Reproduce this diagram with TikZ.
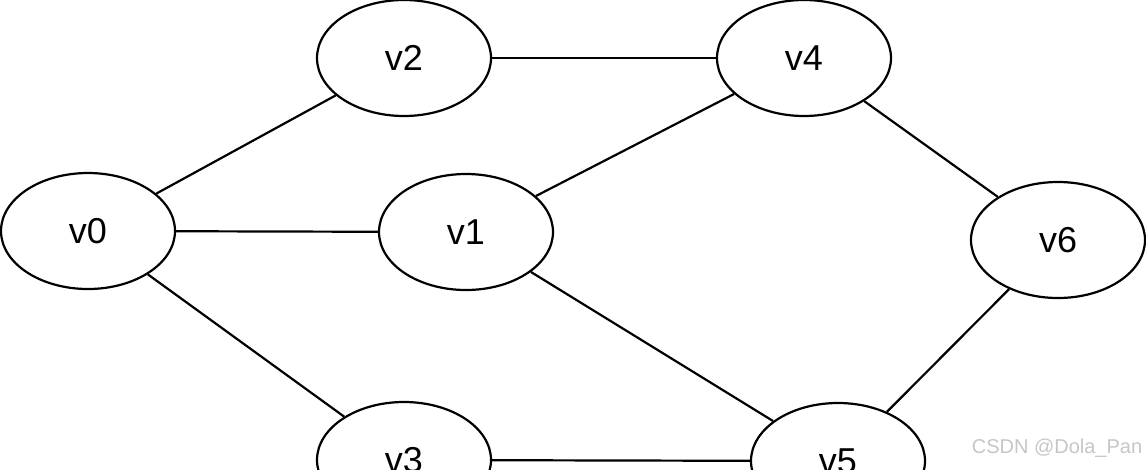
\documentclass[tikz,border=0pt]{standalone}
\usepackage{fontspec}
\setmainfont{Liberation Sans}
\usepackage{tikz}
\tikzstyle{vertex}=[draw, ellipse, line width = 2.2pt, minimum width = 174pt, minimum height = 116pt, inner sep = 0pt, font=\fontsize{36}{36}\selectfont]
\tikzstyle{edge}=[line width = 2.2pt]
\usetikzlibrary{shapes.geometric}

\begin{document}
\begin{tikzpicture}[x=1pt, y=-1pt]
				\useasboundingbox (0,0) rectangle (1146,469);

				\node[vertex] (v0) at (88,231) {v0};
				\node[vertex] (v1) at (466,232) {v1};
				\node[vertex] (v2) at (404,58) {v2};
				\node[vertex] (v4) at (804,58) {v4};
				\node[vertex] (v6) at (1058,240) {v6};
				\node[vertex] (v3) at (404,460) {v3};
				\node[vertex] (v5) at (838,461) {v5};

				\draw[edge] (v0) -- (v2);
				\draw[edge] (v0) -- (v1);
				\draw[edge] (v0) -- (v3);
				\draw[edge] (v2) -- (v4);
				\draw[edge] (v1) -- (v4);
				\draw[edge] (v1) -- (v5);
				\draw[edge] (v4) -- (v6);
				\draw[edge] (v6) -- (v5);
				\draw[edge] (v3) -- (v5);

				\node[gray!45, font=\fontsize{20}{20}\selectfont] (mark) at (1057,448) {CSDN @Dola\_Pan};
			\end{tikzpicture}
\end{document}
